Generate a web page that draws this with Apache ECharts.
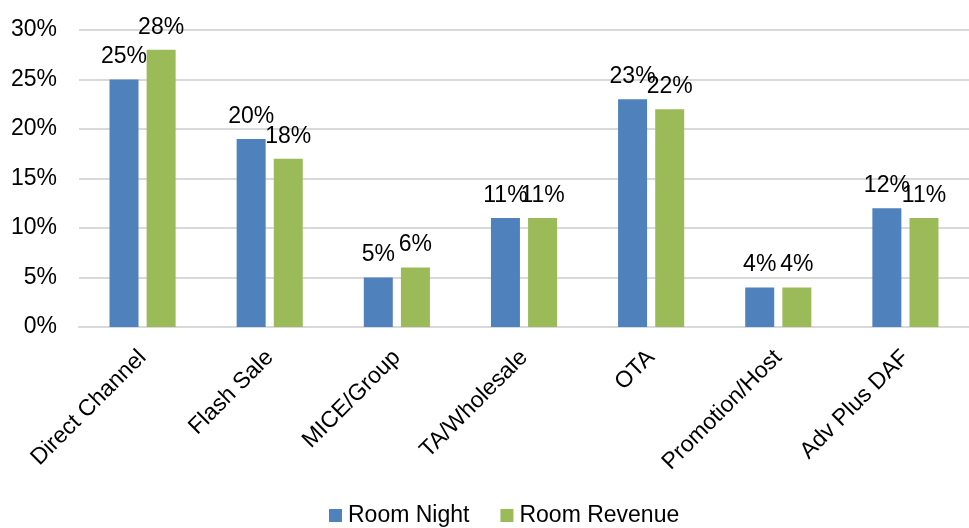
<!DOCTYPE html>
<html>
<head>
<meta charset="utf-8">
<script src="https://cdn.jsdelivr.net/npm/echarts@6/dist/echarts.min.js"></script>
<style>
html,body{margin:0;padding:0;background:#fff;}
#c{width:969px;height:528px;}
</style>
</head>
<body>
<div id="c"></div>
<script>
var categories = ['Direct Channel','Flash Sale','MICE/Group','TA/Wholesale','OTA','Promotion/Host','Adv Plus DAF'];
var roomNight = [25, 19, 5, 11, 23, 4, 12];
var roomRevenue = [28, 17, 6, 11, 22, 4, 11];
var roomNightLabels = ['25%','20%','5%','11%','23%','4%','12%'];
var roomRevenueLabels = ['28%','18%','6%','11%','22%','4%','11%'];
var yTicks = [0,5,10,15,20,25,30];

var FONT = '"Liberation Sans", Arial, sans-serif';
var FS = 23;
var chart = echarts.init(document.getElementById('c'));
function lbl(arr){
  return {show:true, position:'top', distance:11, color:'#000', fontSize:FS, fontFamily:FONT,
    formatter:function(p){return arr[p.dataIndex];}};
}
chart.setOption({
  animation:false,
  textStyle:{fontFamily:FONT},
  grid:{left:79, right:-10, top:30, bottom:201, containLabel:false},
  legend:{bottom:-4, left:324, itemWidth:13, itemHeight:13, itemGap:31,
    icon:'rect', textStyle:{fontSize:FS, color:'#000', fontFamily:FONT, padding:[0,0,0,1]},
    data:['Room Night','Room Revenue']},
  xAxis:{type:'category', data:categories,
    axisLine:{lineStyle:{color:'#D9D9D9', width:2}}, axisTick:{show:false},
    axisLabel:{rotate:45, margin:27, fontSize:FS, color:'#000', fontFamily:FONT, interval:0}},
  yAxis:{type:'value', min:yTicks[0], max:yTicks[yTicks.length-1], interval:5,
    axisLine:{show:false}, axisTick:{show:false},
    splitLine:{lineStyle:{color:'#D9D9D9', width:2}},
    axisLabel:{margin:22, fontSize:FS, color:'#000', fontFamily:FONT, formatter:'{value}%'}},
  series:[
    {name:'Room Night', type:'bar', data:roomNight, barWidth:29, barGap:'28%',
      itemStyle:{color:'#4F81BD'}, label:lbl(roomNightLabels)},
    {name:'Room Revenue', type:'bar', data:roomRevenue, barWidth:29,
      itemStyle:{color:'#9BBB59'}, label:lbl(roomRevenueLabels)}
  ]
});
</script>
</body>
</html>
